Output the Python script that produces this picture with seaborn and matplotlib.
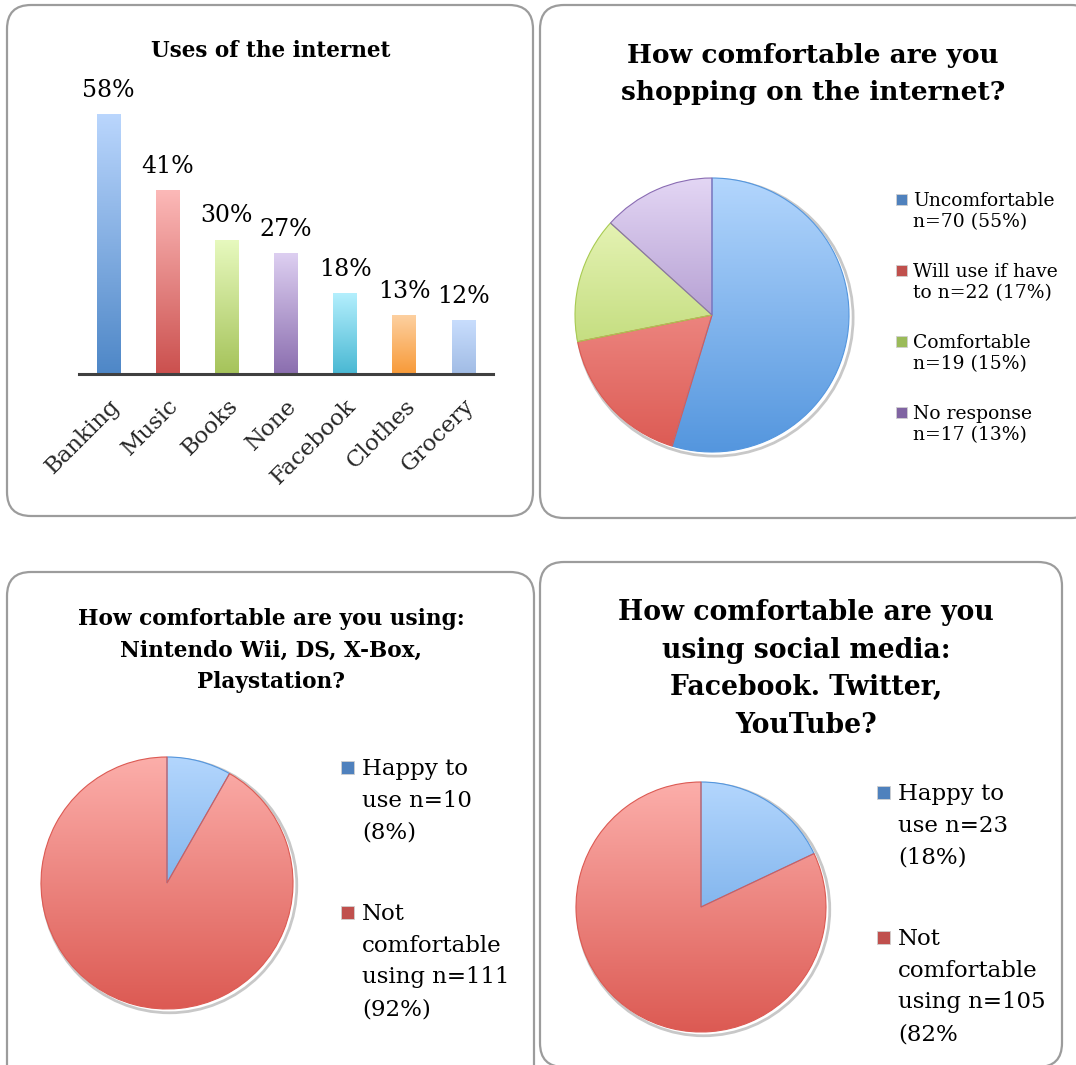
import numpy as np
import pandas as pd
import seaborn as sns
import matplotlib
matplotlib.use('Agg')
import matplotlib.pyplot as plt
from matplotlib.colors import LinearSegmentedColormap
from matplotlib.patches import FancyBboxPatch, Rectangle, Circle

# ---- data ----
uses_categories = ['Banking', 'Music', 'Books', 'None', 'Facebook', 'Clothes', 'Grocery']
uses_percent = [58, 41, 30, 27, 18, 13, 12]
uses_top = ['#bad6fd', '#fcb9b8', '#e7f9be', '#ddcff1', '#b4effd', '#fdd0a0', '#c8ddfd']
uses_bottom = ['#4e87c7', '#cb504e', '#a5c35a', '#8b6eaf', '#49b8d3', '#f89a38', '#a1bce5']

shop_labels = ['Uncomfortable\nn=70 (55%)', 'Will use if have\nto n=22 (17%)',
               'Comfortable\nn=19 (15%)', 'No response\nn=17 (13%)']
shop_counts = [70, 22, 19, 17]

games_labels = ['Happy to\nuse n=10\n(8%)', 'Not\ncomfortable\nusing n=111\n(92%)']
games_counts = [10, 111]

social_labels = ['Happy to\nuse n=23\n(18%)', 'Not\ncomfortable\nusing n=105\n(82%']
social_counts = [23, 105]

pie_top = ['#b3d6fd', '#fcaeaa', '#f0fac6', '#e3d6f4']
pie_bottom = ['#5496de', '#dc5a53', '#a8cb52', '#8a6cb3']
pie_marker = ['#4f81bd', '#c0504d', '#9bbb59', '#8064a2']

W, H = 1076, 1065

sns.set_theme(style='white')
plt.rcParams['font.family'] = ['DejaVu Serif']

fig = plt.figure(figsize=(W / 100, H / 100), dpi=100)


def px_axes(x0, y0, x1, y1):
    return fig.add_axes([x0 / W, 1 - y1 / H, (x1 - x0) / W, (y1 - y0) / H])


def grad(c1, c2):
    return LinearSegmentedColormap.from_list('g', [c1, c2])


ramp = np.linspace(0, 1, 256).reshape(-1, 1)

# background layer in pixel units
bg = fig.add_axes([0, 0, 1, 1], zorder=0)
bg.set_xlim(0, W)
bg.set_ylim(H, 0)
bg.axis('off')

for x0, y0, x1, y1 in [(7, 5, 533, 516), (540, 5, 1095, 518),
                       (7, 572, 534, 1095), (540, 562, 1062, 1067)]:
    bg.add_patch(FancyBboxPatch((x0, y0), x1 - x0, y1 - y0,
                                boxstyle='round,pad=0,rounding_size=24',
                                fc='white', ec='#9c9c9c', lw=1.6))


def title(lines, cx, y0, step, size):
    for i, t in enumerate(lines):
        bg.text(cx, y0 + i * step, t, ha='center', va='baseline',
                fontsize=size, fontweight='bold', color='black')


def legend(labels, colors, mx, tx, y0, line_step, entry_step, size, msize):
    for k, (lab, col) in enumerate(zip(labels, colors)):
        y = y0 + k * entry_step
        bg.add_patch(Rectangle((mx, y - msize - 1), msize, msize, fc=col,
                               ec='#d0d0d0', lw=0.6))
        for j, line in enumerate(lab.split('\n')):
            bg.text(tx, y + j * line_step, line, ha='left', va='baseline',
                    fontsize=size, color='black')


def pie(ax, counts):
    wedges, _ = ax.pie(counts, startangle=90, counterclock=False, radius=1,
                       colors=pie_marker[:len(counts)],
                       wedgeprops=dict(linewidth=0.8))
    for i, w in enumerate(wedges):
        w.set_facecolor('none')
        w.set_edgecolor(pie_bottom[i])
        im = ax.imshow(ramp, cmap=grad(pie_top[i], pie_bottom[i]),
                       extent=[-1, 1, -1, 1], aspect='auto', zorder=0.5)
        im.set_clip_path(w)
    ax.add_patch(Circle((0.02, -0.02), 1.01, fc='none', ec='#c8c8c8', lw=2.0, zorder=0.2))
    ax.set_xlim(-1.1, 1.1)
    ax.set_ylim(-1.1, 1.1)
    ax.axis('off')


# ---- panel 1: bar chart ----
ax1 = px_axes(79, 374 - 62 * 4.466, 493, 374)
df = pd.DataFrame({'cat': uses_categories, 'pct': uses_percent})
sns.barplot(data=df, x='cat', y='pct', ax=ax1, width=0.4, color='white',
            edgecolor='none', saturation=1)
for i, p in enumerate(ax1.patches):
    x, w, h = p.get_x(), p.get_width(), p.get_height()
    ax1.imshow(ramp, cmap=grad(uses_top[i], uses_bottom[i]),
               extent=[x, x + w, 0, h], aspect='auto', zorder=2)
    ax1.text(p.get_x() + w / 2, h + 4.0, f'{uses_percent[i]}%', ha='center',
             va='baseline', fontsize=17, color='black')
ax1.set_xlim(-0.5, 6.5)
ax1.set_ylim(0, 62)
ax1.set_xlabel('')
ax1.set_ylabel('')
ax1.set_yticks([])
for s in ['top', 'right', 'left']:
    ax1.spines[s].set_visible(False)
ax1.spines['bottom'].set_color('#404040')
ax1.spines['bottom'].set_linewidth(2.2)
ax1.spines['bottom'].set_zorder(3)
ax1.tick_params(axis='x', length=0, pad=15)
plt.setp(ax1.get_xticklabels(), rotation=45, ha='right', rotation_mode='anchor',
         fontsize=16.5)
ax1.patch.set_alpha(0)
title(['Uses of the internet'], 271, 57, 0, 15.5)

# ---- panel 2: shopping pie ----
r = 137
ax2 = px_axes(712 - 1.1 * r, 315 - 1.1 * r, 712 + 1.1 * r, 315 + 1.1 * r)
pie(ax2, shop_counts)
title(['How comfortable are you', 'shopping on the internet?'], 813, 63, 37, 19)
legend(shop_labels, pie_marker, 896, 913, 206, 21.5, 71, 13.5, 11)

# ---- panel 3: games pie ----
r = 126
ax3 = px_axes(167 - 1.1 * r, 883 - 1.1 * r, 167 + 1.1 * r, 883 + 1.1 * r)
pie(ax3, games_counts)
title(['How comfortable are you using:', 'Nintendo Wii, DS, X-Box,', 'Playstation?'],
      271, 625, 31.5, 15.6)
legend(games_labels, pie_marker[:2], 341, 362, 775, 31.7, 145, 16.5, 13)

# ---- panel 4: social media pie ----
r = 125
ax4 = px_axes(701 - 1.1 * r, 907 - 1.1 * r, 701 + 1.1 * r, 907 + 1.1 * r)
pie(ax4, social_counts)
title(['How comfortable are you', 'using social media:', 'Facebook. Twitter,', 'YouTube?'],
      806, 620, 37.7, 19.2)
legend(social_labels, pie_marker[:2], 877, 898, 800, 31.7, 145, 16.5, 13)

fig.savefig('out.png', dpi=100)
